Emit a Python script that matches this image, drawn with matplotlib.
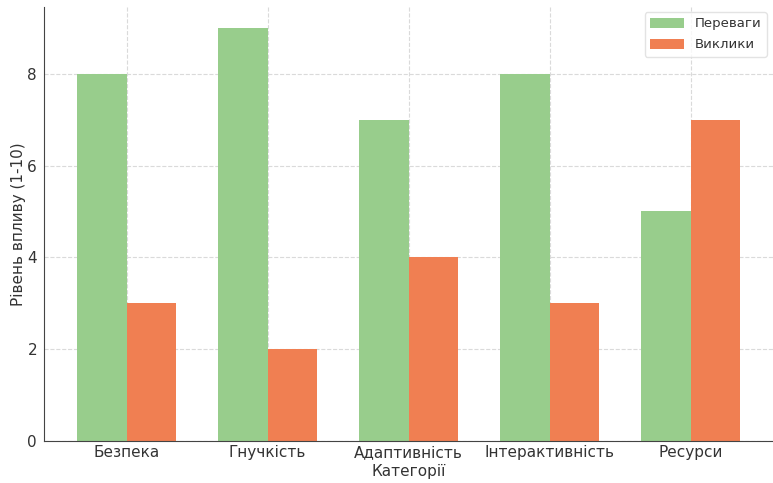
import numpy as np
import matplotlib.pyplot as plt

categories = ['Безпека', 'Гнучкість', 'Адаптивність', 'Інтерактивність', 'Ресурси']
advantages = [8, 9, 7, 8, 5]
challenges = [3, 2, 4, 3, 7]

green = '#98cd8c'
orange = '#f07f52'

x = np.arange(len(categories))
width = 0.35

fig = plt.figure(figsize=(7.73, 4.83), dpi=100)
ax = fig.add_axes([0.057, 0.087, 0.943, 0.898])

ax.bar(x - width / 2, advantages, width, color=green, label='Переваги', zorder=2)
ax.bar(x + width / 2, challenges, width, color=orange, label='Виклики', zorder=2)

ax.set_xticks(x)
ax.set_xticklabels(categories, fontsize=11, color='#333333')
ax.tick_params(axis='y', labelsize=11, labelcolor='#333333', length=0, pad=5)
ax.tick_params(axis='x', length=0, pad=3)
ax.set_xlabel('Категорії', fontsize=11, color='#333333', labelpad=3)
ax.set_ylabel('Рівень впливу (1-10)', fontsize=11, color='#333333', labelpad=1)

ax.grid(True, linestyle='--', color='#dadada', linewidth=0.8, zorder=0)
ax.set_axisbelow(True)
for side in ['top', 'right']:
    ax.spines[side].set_visible(False)
for side in ['left', 'bottom']:
    ax.spines[side].set_color('#444444')

leg = ax.legend(loc='upper right', fontsize=9.5, frameon=True,
                bbox_to_anchor=(0.995, 0.995), borderaxespad=0.2,
                handlelength=2.6, handleheight=0.8, labelspacing=0.6)
leg.get_frame().set_edgecolor('#dddddd')
for t in leg.get_texts():
    t.set_color('#333333')

fig.savefig('out.png', dpi=100)
